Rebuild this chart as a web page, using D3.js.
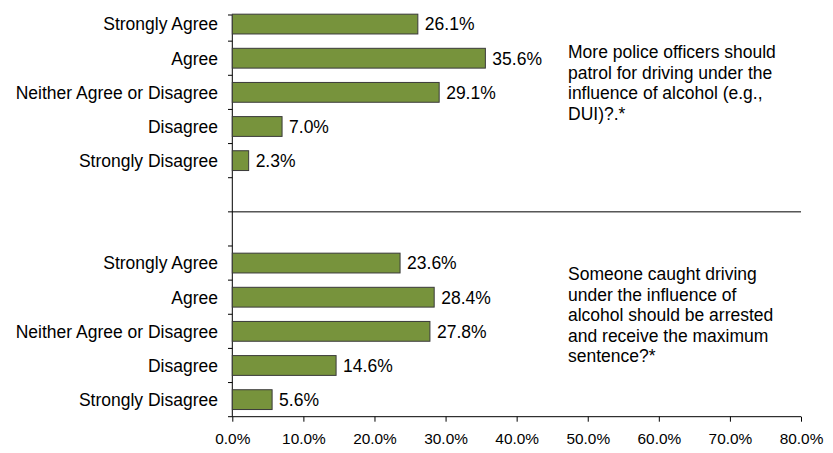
<!DOCTYPE html>
<html><head><meta charset="utf-8">
<script src="https://cdn.jsdelivr.net/npm/d3@7"></script>
<style>body{margin:0;background:#fff}svg{display:block}text{font-family:"Liberation Sans",Arial,sans-serif;fill:#000}</style>
</head><body><svg id="c" width="833" height="453"></svg>
<script>
const categories = ["Strongly Agree","Agree","Neither Agree or Disagree","Disagree","Strongly Disagree"];
const topValues = [26.1, 35.6, 29.1, 7.0, 2.3];
const bottomValues = [23.6, 28.4, 27.8, 14.6, 5.6];
const topQuestion = ["More police officers should","patrol for driving under the","influence of alcohol (e.g.,","DUI)?.*"];
const bottomQuestion = ["Someone caught driving","under the influence of","alcohol should be arrested","and receive the maximum","sentence?*"];
const xTicks = [0,10,20,30,40,50,60,70,80];

const svg = d3.select("#c");
const x = d3.scaleLinear().domain([0,80]).range([232.3,801]);
const rows = [...categories.map(c=>"T|"+c),"T|blank","B|blank",...categories.map(c=>"B|"+c)];
const y = d3.scaleBand().domain(rows).range([7,416.7]).paddingInner(0.42).paddingOuter(0.21);
const step = y.step();
const y0 = 7;

const data = [
  ...categories.map((c,i)=>({key:"T|"+c,label:c,v:topValues[i]})),
  ...categories.map((c,i)=>({key:"B|"+c,label:c,v:bottomValues[i]}))
];

svg.append("line").attr("x1",232.3).attr("x2",232.3).attr("y1",15).attr("y2",416.7).attr("stroke","#000");
d3.range(1,13).forEach(i=>{
  const yy = y0 + i*step;
  svg.append("line").attr("x1",228).attr("x2",232.3).attr("y1",yy).attr("y2",yy).attr("stroke","#000");
});
svg.append("line").attr("x1",228).attr("x2",232.3).attr("y1",15).attr("y2",15).attr("stroke","#000");
const yDiv = y0 + 6*step;
svg.append("line").attr("x1",232.3).attr("x2",801).attr("y1",yDiv).attr("y2",yDiv).attr("stroke","#000");

const xa = svg.append("g").attr("transform","translate(0,416.7)")
  .call(d3.axisBottom(x).tickValues(xTicks).tickSize(5).tickPadding(11).tickFormat(d=>d.toFixed(1)+"%"));
xa.select(".domain").attr("stroke","#000").attr("d","M232.3,0H801");
xa.selectAll(".tick line").attr("stroke","#000");
xa.selectAll("text").style("font-size","15.4px").style("font-family","'Liberation Sans',Arial,sans-serif").attr("fill","#000");

svg.selectAll("rect.bar").data(data).join("rect").attr("class","bar")
  .attr("x",x(0)).attr("y",d=>y(d.key)).attr("width",d=>x(d.v)-x(0)).attr("height",y.bandwidth())
  .attr("fill","#77933C").attr("stroke","#3a3a3a").attr("stroke-width",1);

svg.selectAll("text.val").data(data).join("text").attr("class","val")
  .attr("x",d=>x(d.v)+7).attr("y",d=>y(d.key)+y.bandwidth()/2).attr("dy","0.36em")
  .style("font-size","17.5px").text(d=>d.v.toFixed(1)+"%");

svg.selectAll("text.cat").data(data).join("text").attr("class","cat")
  .attr("x",218).attr("y",d=>y(d.key)+y.bandwidth()/2).attr("dy","0.36em").attr("text-anchor","end")
  .style("font-size","17.5px").text(d=>d.label);

function note(lines, x0, yFirst){
  svg.append("g").selectAll("text").data(lines).join("text")
    .attr("x",x0).attr("y",(d,i)=>yFirst+i*20.5).attr("dy","0.36em")
    .style("font-size","17.5px").text(d=>d);
}
note(topQuestion,568,51.7);
note(bottomQuestion,568,274);
</script></body></html>
